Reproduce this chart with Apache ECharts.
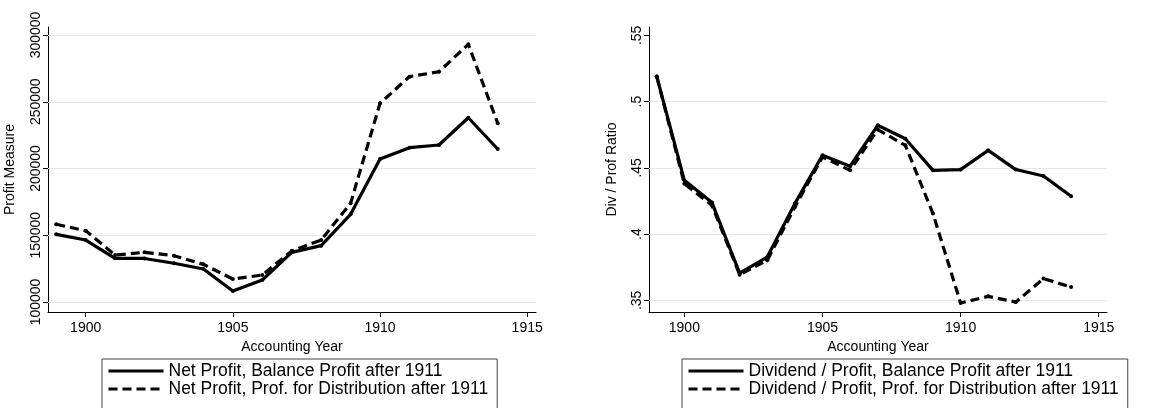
<!DOCTYPE html>
<html>
<head>
<meta charset="utf-8">
<script src="https://cdn.jsdelivr.net/npm/echarts@6/dist/echarts.min.js"></script>
<style>
  html, body { margin: 0; padding: 0; background: #fff; }
  #main { width: 1165px; height: 408px; }
</style>
</head>
<body>
<div id="main"></div>
<script>
// data
var years = [1899, 1900, 1901, 1902, 1903, 1904, 1905, 1906, 1907, 1908, 1909, 1910, 1911, 1912, 1913, 1914];
var netProfitBal = [150700, 146400, 132700, 132600, 129000, 124700, 108200, 116500, 137200, 142200, 165700, 207100, 215600, 217600, 238000, 214600];
var netProfitDist = [158200, 153400, 135200, 137200, 134700, 128200, 117200, 120200, 138200, 146400, 173900, 248800, 268800, 272500, 293000, 233900];
var divRatioBal = [0.519, 0.4406, 0.4238, 0.3706, 0.3827, 0.423, 0.4595, 0.4512, 0.4821, 0.472, 0.4481, 0.4487, 0.4632, 0.4487, 0.4438, 0.4285];
var divRatioDist = [0.519, 0.438, 0.4217, 0.3694, 0.3802, 0.4204, 0.4582, 0.4481, 0.4789, 0.467, 0.4155, 0.348, 0.353, 0.3487, 0.3664, 0.36];

var yearTicks = [1900, 1905, 1910, 1915];
var profitTicks = [100000, 150000, 200000, 250000, 300000];
var ratioTicks = [0.35, 0.4, 0.45, 0.5, 0.55];
var ratioGrid = [0.35, 0.4, 0.45, 0.5];

var legendLeft = ['Net Profit, Balance Profit after 1911', 'Net Profit, Prof. for Distribution after 1911'];
var legendRight = ['Dividend / Profit, Balance Profit after 1911', 'Dividend / Profit, Prof. for Distribution after 1911'];

var font = 'Liberation Sans, Arial, Helvetica, sans-serif';

function pairs(ys) {
    return years.map(function (y, i) { return [y, ys[i]]; });
}

function plain(v) {
    return String(Math.round(v));
}

function xAxisCfg(idx) {
    return {
        type: 'value',
        gridIndex: idx,
        min: 1898.72,
        max: 1915.3,
        name: 'Accounting Year',
        nameLocation: 'middle',
        nameGap: 25,
        nameTextStyle: { fontFamily: font, fontSize: 14, color: '#000' },
        axisLine: { onZero: false, lineStyle: { color: '#000', width: 1 } },
        axisTick: { length: 5, customValues: yearTicks, lineStyle: { color: '#000' } },
        axisLabel: { customValues: yearTicks, margin: 9, fontFamily: font, fontSize: 14, color: '#000', formatter: plain },
        splitLine: { show: false }
    };
}

function gridLines(vals) {
    return {
        silent: true,
        symbol: 'none',
        z: 1,
        label: { show: false },
        lineStyle: { color: '#e8e8e8', type: 'solid', width: 1 },
        data: vals.map(function (v) { return { yAxis: v }; })
    };
}

function lineSeries(name, xi, ys, dashed, marks) {
    var s = {
        name: name,
        type: 'line',
        xAxisIndex: xi,
        yAxisIndex: xi,
        data: pairs(ys),
        symbol: 'circle',
        symbolSize: 4,
        showSymbol: true,
        itemStyle: { color: '#000' },
        lineStyle: { color: '#000', width: 3.2, type: dashed ? [9, 5] : 'solid' },
        z: 3
    };
    if (marks) s.markLine = marks;
    return s;
}

function legendCfg(names, left) {
    return {
        data: names,
        orient: 'vertical',
        left: left,
        top: 359,
        height: 90,
        itemWidth: 55,
        itemHeight: 14,
        itemGap: 0,
        padding: [3, 9, 30, 5],
        borderColor: '#444',
        borderWidth: 1,
        backgroundColor: '#fff',
        itemStyle: { opacity: 0 },
        lineStyle: { width: 3 },
        textStyle: { fontFamily: font, fontSize: 17.5, color: '#000' },
        selectedMode: false
    };
}

var myChart = echarts.init(document.getElementById('main'));

var option = {
    animation: false,
    backgroundColor: '#fff',
    grid: [
        { left: 48, right: 629, top: 27, bottom: 96, containLabel: false },
        { left: 649, right: 58, top: 27, bottom: 96, containLabel: false }
    ],
    legend: [legendCfg(legendLeft, 102), legendCfg(legendRight, 682)],
    xAxis: [xAxisCfg(0), xAxisCfg(1)],
    yAxis: [
        {
            type: 'value',
            gridIndex: 0,
            min: 92500,
            max: 306000,
            name: 'Profit Measure',
            nameLocation: 'middle',
            nameRotate: 90,
            nameGap: 31,
            nameTextStyle: { fontFamily: font, fontSize: 14, color: '#000' },
            axisLine: { show: true, onZero: false, lineStyle: { color: '#000', width: 1 } },
            axisTick: { show: true, length: 5, customValues: profitTicks, lineStyle: { color: '#000' } },
            axisLabel: { customValues: profitTicks, rotate: 90, margin: 5, fontFamily: font, fontSize: 14, color: '#000', formatter: plain },
            splitLine: { show: false }
        },
        {
            type: 'value',
            gridIndex: 1,
            min: 0.3412,
            max: 0.5563,
            name: 'Div / Prof Ratio',
            nameLocation: 'middle',
            nameRotate: 90,
            nameGap: 30,
            nameTextStyle: { fontFamily: font, fontSize: 14, color: '#000' },
            axisLine: { show: true, onZero: false, lineStyle: { color: '#000', width: 1 } },
            axisTick: { show: true, length: 5, customValues: ratioTicks, lineStyle: { color: '#000' } },
            axisLabel: {
                customValues: ratioTicks, rotate: 90, margin: 5, fontFamily: font, fontSize: 14, color: '#000',
                formatter: function (v) { return String(+(+v).toFixed(2)).replace(/^0/, ''); }
            },
            splitLine: { show: false }
        }
    ],
    series: [
        lineSeries(legendLeft[0], 0, netProfitBal, false, gridLines(profitTicks)),
        lineSeries(legendLeft[1], 0, netProfitDist, true),
        lineSeries(legendRight[0], 1, divRatioBal, false, gridLines(ratioGrid)),
        lineSeries(legendRight[1], 1, divRatioDist, true)
    ]
};

myChart.setOption(option);

window.addEventListener('resize', function () {
    myChart.resize();
});
</script>
</body>
</html>
